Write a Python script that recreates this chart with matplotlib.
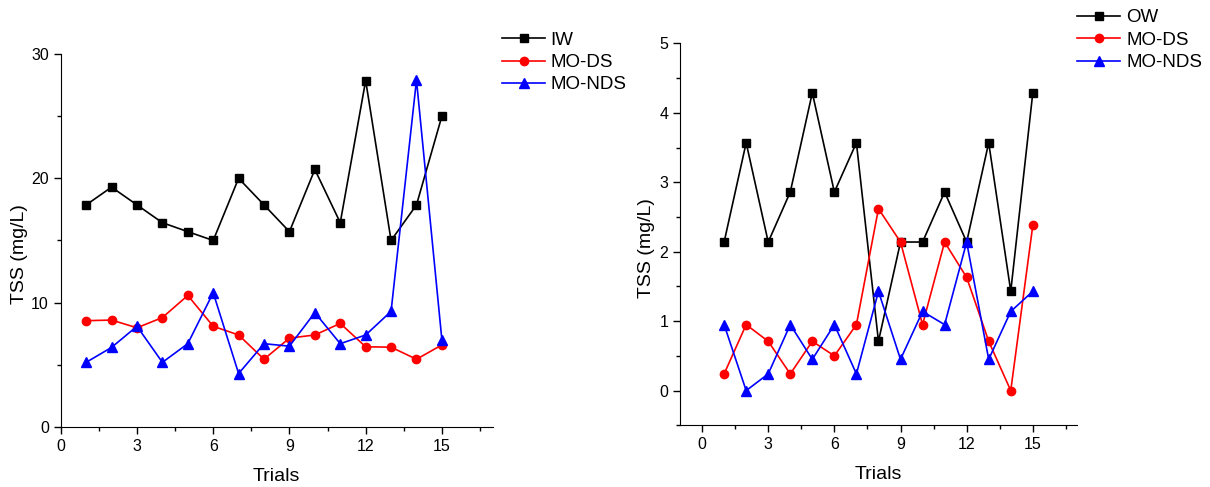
import numpy as np
import matplotlib.pyplot as plt
from matplotlib.ticker import MultipleLocator

# ticks and axis labels in a narrow sans, legend in regular sans
plt.rcParams['font.family'] = ['Liberation Sans Narrow', 'Liberation Sans', 'DejaVu Sans']
legend_font = {'family': ['Liberation Sans', 'DejaVu Sans'], 'size': 13.5}

trials = list(range(1, 16))

# left panel: inlet water
iw = [17.86, 19.29, 17.86, 16.43, 15.71, 15.0, 20.0, 17.86, 15.71, 20.71, 16.43, 27.86, 15.0, 17.86, 25.0]
iw_mods = [8.55, 8.6, 7.98, 8.8, 10.58, 8.1, 7.4, 5.45, 7.15, 7.4, 8.33, 6.45, 6.42, 5.45, 6.6]
iw_monds = [5.2, 6.4, 8.1, 5.2, 6.7, 10.8, 4.3, 6.7, 6.5, 9.2, 6.7, 7.4, 9.3, 27.9, 7.0]

# right panel: outlet water
ow = [2.14, 3.57, 2.14, 2.86, 4.29, 2.86, 3.57, 0.71, 2.14, 2.14, 2.86, 2.14, 3.57, 1.43, 4.29]
ow_mods = [0.24, 0.95, 0.71, 0.24, 0.71, 0.5, 0.95, 2.62, 2.14, 0.95, 2.14, 1.63, 0.71, 0.0, 2.38]
ow_monds = [0.95, 0.0, 0.24, 0.95, 0.45, 0.95, 0.24, 1.43, 0.45, 1.14, 0.95, 2.14, 0.45, 1.14, 1.43]

fig = plt.figure(figsize=(12.1, 4.87), dpi=100)
ax1 = fig.add_axes([0.0502, 0.1232, 0.357, 0.766])
ax2 = fig.add_axes([0.562, 0.1267, 0.328, 0.784])


def draw(ax, first, mods, monds, first_label):
    ax.plot(trials, first, color='black', marker='s', markersize=5.5, lw=1.2, label=first_label)
    ax.plot(trials, mods, color='red', marker='o', markersize=6, lw=1.2, label='MO-DS')
    ax.plot(trials, monds, color='blue', marker='^', markersize=6.5, lw=1.2, label='MO-NDS')
    ax.spines['top'].set_visible(False)
    ax.spines['right'].set_visible(False)
    ax.xaxis.set_major_locator(MultipleLocator(3))
    ax.xaxis.set_minor_locator(MultipleLocator(1.5))
    ax.tick_params(which='major', direction='out', length=5, width=1, labelsize=11.5)
    ax.tick_params(which='minor', direction='out', length=3, width=1)
    ax.set_xlabel('Trials', fontsize=14, labelpad=10)
    ax.set_ylabel('TSS (mg/L)', fontsize=14)


draw(ax1, iw, iw_mods, iw_monds, 'IW')
ax1.set_xlim(0, 17)
ax1.set_ylim(0, 30)
ax1.yaxis.set_major_locator(MultipleLocator(10))
ax1.yaxis.set_minor_locator(MultipleLocator(5))
ax1.yaxis.set_label_coords(-0.075, 0.464)
ax1.legend(loc='upper left', bbox_to_anchor=(1.004, 1.08), frameon=False, prop=legend_font,
           handlelength=2.3, labelspacing=0.28, handletextpad=0.3, borderaxespad=0)

draw(ax2, ow, ow_mods, ow_monds, 'OW')
ax2.set_xlim(-1, 17)
ax2.set_ylim(-0.5, 5)
ax2.yaxis.set_major_locator(MultipleLocator(1))
ax2.yaxis.set_minor_locator(MultipleLocator(0.5))
ax2.yaxis.set_label_coords(-0.063, 0.465)
ax2.legend(loc='upper left', bbox_to_anchor=(0.982, 1.109), frameon=False, prop=legend_font,
           handlelength=2.3, labelspacing=0.28, handletextpad=0.3, borderaxespad=0)

fig.savefig('out.png', dpi=100)
